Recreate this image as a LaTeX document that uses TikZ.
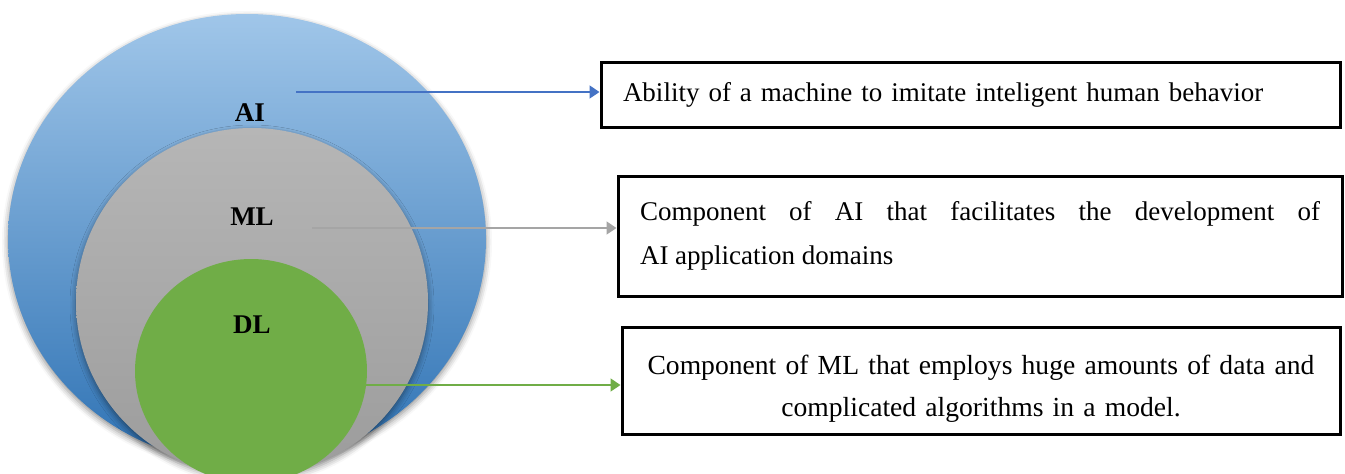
\documentclass[tikz,border=0pt]{standalone}
\usepackage{fontspec}
\setmainfont{Liberation Serif}
\usetikzlibrary{arrows.meta,positioning,shadows.blur}
\definecolor{aiTop}{RGB}{160,198,233}
\definecolor{aiBot}{RGB}{46,114,180}
\definecolor{mlTop}{RGB}{182,182,182}
\definecolor{mlBot}{RGB}{156,156,156}
\definecolor{dlFill}{RGB}{112,173,71}
\definecolor{aiLine}{RGB}{68,114,196}
\definecolor{mlLine}{RGB}{165,165,165}
\begin{document}
\begin{tikzpicture}[x=0.5pt, y=-0.5pt,
  camada/.style={font=\fontsize{13.5}{15}\selectfont\bfseries, inner sep=1pt},
  caixa/.style={draw, line width=1.5pt, inner sep=0pt, fill=white,
                font=\fontsize{13.5}{22}\selectfont},
  sombra/.style={blur shadow={shadow xshift=0pt, shadow yshift=-1.5pt,
                 shadow blur radius=3pt, shadow opacity=45}},
  seta/.style={-{Triangle[length=5pt, width=6.5pt]}, line width=0.8pt}]
\useasboundingbox (0,0) rectangle (1345,473);
\clip (0,0) rectangle (1345,473);
\path[sombra, top color=aiTop, bottom color=aiBot]
  (247,239) ellipse [x radius=239, y radius=225];
\path[sombra, top color=mlTop, bottom color=mlBot]
  (252,302) ellipse [x radius=176, y radius=174];
\fill[dlFill] (251,371) ellipse [x radius=116, y radius=112];
\node[camada] (ai) at (250,113) {AI};
\node[camada] (ml) at (252,217) {ML};
\node[camada] (dl) at (252,325) {DL};
\coordinate (ai-ini) at (296,92);
\coordinate (ml-ini) at (312,228);
\coordinate (dl-ini) at (365,385);
\node[caixa, minimum width=369.5pt, minimum height=32.5pt,
      text width=347.5pt, align=left] (def-ai) at (970.5,94.5)
  {Ability of a machine to imitate inteligent human behavior};
\node[caixa, minimum width=362pt, minimum height=60pt,
      text width=340pt, align=justify] (def-ml) at (980,236)
  {Component of AI that facilitates the development of\linebreak
   AI application domains};
\node[caixa, minimum width=359pt, minimum height=53.5pt,
      text width=340pt, align=center, text depth=16pt,
      font=\fontsize{13.8}{21}\selectfont]
  (def-dl) at (981,380.5)
  {Component of ML that employs huge amounts of data and\\
   complicated algorithms in a model.};
\draw[seta, aiLine] (ai-ini) -- (ai-ini -| def-ai.west);
\draw[seta, mlLine] (ml-ini) -- (ml-ini -| def-ml.west);
\draw[seta, dlFill] (dl-ini) -- (dl-ini -| def-dl.west);
\end{tikzpicture}
\end{document}
